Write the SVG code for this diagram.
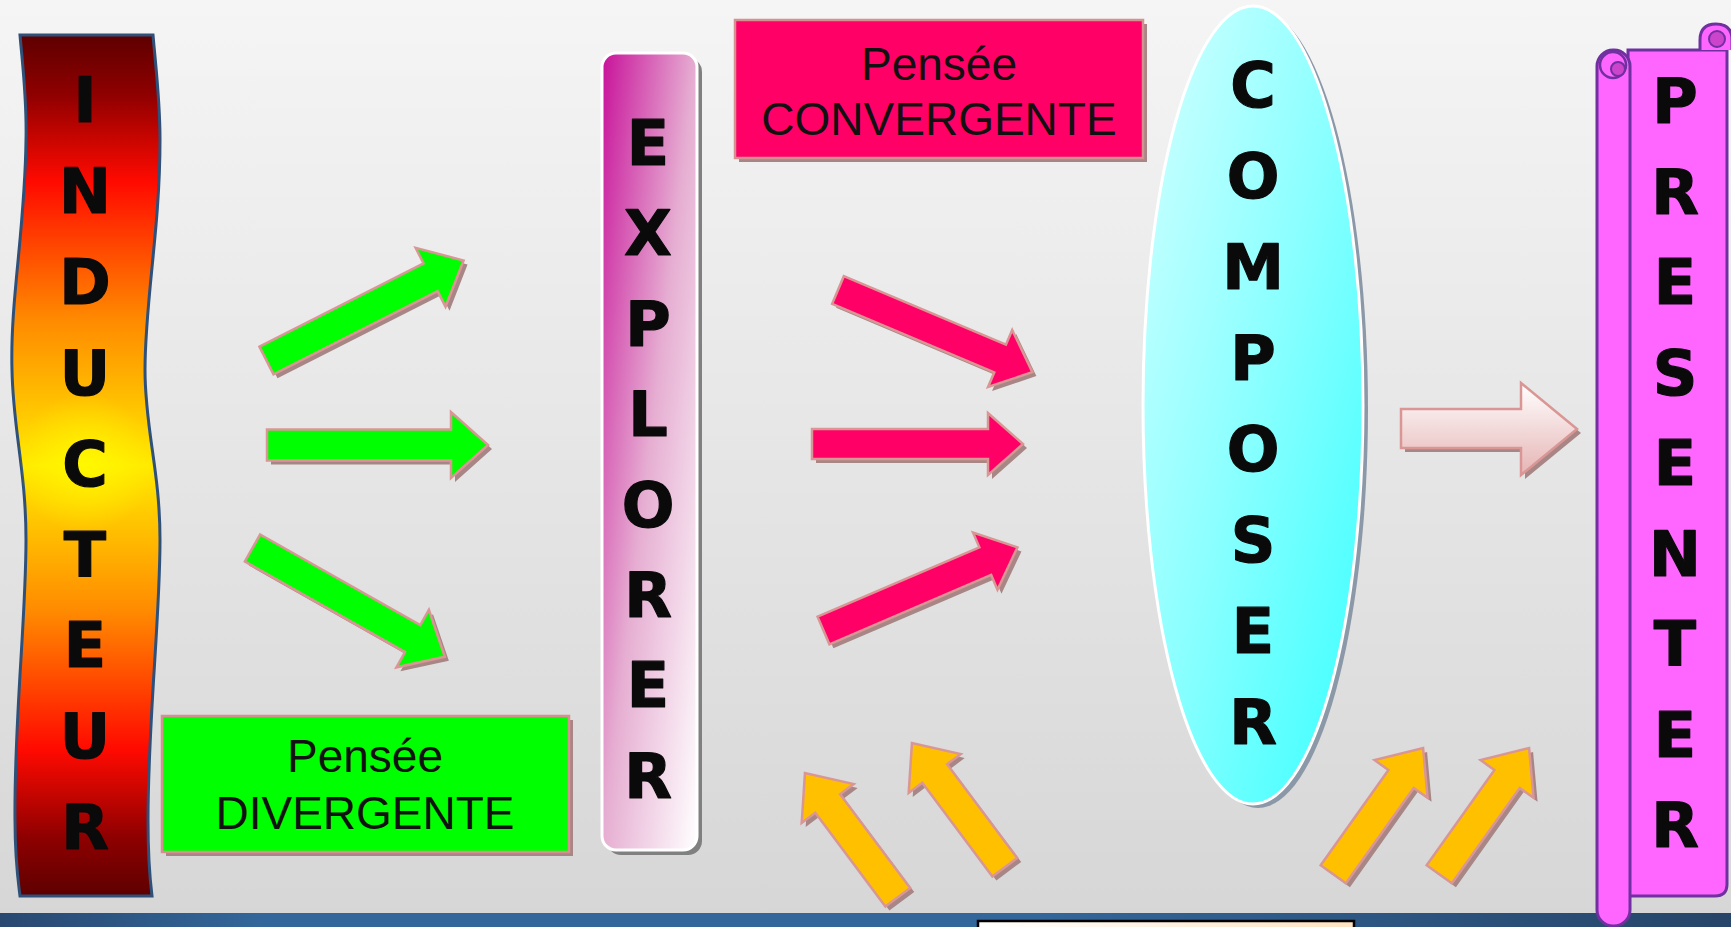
<svg xmlns="http://www.w3.org/2000/svg" xmlns:xlink="http://www.w3.org/1999/xlink" width="1731" height="927" viewBox="0 0 1731 927">
<style>
.big{font-family:"DejaVu Sans","Liberation Sans",sans-serif;font-weight:bold;font-size:62px;fill:#0a0a0a;stroke:#0a0a0a;stroke-width:1.2;stroke-linejoin:round;text-anchor:middle}
.lbl{font-family:"Liberation Sans","DejaVu Sans",sans-serif;font-size:46px;fill:#111;text-anchor:middle}
.ash{fill:#a88686}
.astk{stroke:#d99694;stroke-width:2.5;stroke-linejoin:miter}
.green{fill:#00ff00}
.pink{fill:#ff0066}
.yellow{fill:#ffc000}
</style>
<defs>
<linearGradient id="bg" x1="0" y1="0" x2="0" y2="1">
<stop offset="0" stop-color="#f5f5f5"/>
<stop offset="1" stop-color="#d6d6d6"/>
</linearGradient>
<linearGradient id="band" x1="0" y1="0" x2="1" y2="0">
<stop offset="0" stop-color="#284870"/>
<stop offset="0.15" stop-color="#33669a"/>
<stop offset="0.6" stop-color="#33669a"/>
<stop offset="1" stop-color="#264568"/>
</linearGradient>
<linearGradient id="peach" x1="0" y1="0" x2="1" y2="0">
<stop offset="0" stop-color="#ffffff"/>
<stop offset="1" stop-color="#fde2c2"/>
</linearGradient>
<linearGradient id="fire" x1="0" y1="0" x2="0" y2="1">
<stop offset="0" stop-color="#5e0000"/>
<stop offset="0.07" stop-color="#900000"/>
<stop offset="0.17" stop-color="#ff0a00"/>
<stop offset="0.33" stop-color="#ff8a00"/>
<stop offset="0.5" stop-color="#ffea00"/>
<stop offset="0.67" stop-color="#ff8a00"/>
<stop offset="0.83" stop-color="#ff0a00"/>
<stop offset="0.93" stop-color="#900000"/>
<stop offset="1" stop-color="#5e0000"/>
</linearGradient>
<radialGradient id="glow" gradientUnits="userSpaceOnUse" cx="85" cy="463" r="70">
<stop offset="0" stop-color="#ffff00" stop-opacity="0.7"/>
<stop offset="1" stop-color="#ffff00" stop-opacity="0"/>
</radialGradient>
<linearGradient id="magenta" x1="0" y1="0" x2="1" y2="1">
<stop offset="0" stop-color="#c8129a"/>
<stop offset="0.5" stop-color="#e6aed2"/>
<stop offset="1" stop-color="#ffffff"/>
</linearGradient>
<linearGradient id="cyan" x1="0" y1="0" x2="1" y2="1">
<stop offset="0" stop-color="#d4ffff"/>
<stop offset="0.5" stop-color="#8affff"/>
<stop offset="1" stop-color="#38ffff"/>
</linearGradient>
<linearGradient id="blush" x1="0" y1="0" x2="0" y2="1">
<stop offset="0" stop-color="#ffffff"/>
<stop offset="1" stop-color="#e6b4b4"/>
</linearGradient>
<polygon id="arrG" points="0,-15.5 184,-15.5 184,-33 221,0 184,33 184,15.5 0,15.5"/>
<polygon id="arrP" points="0,-15 176,-15 176,-31 211,0 176,31 176,15 0,15"/>
<polygon id="arrY" points="0,-15.5 117,-15.5 117,-32.5 155,0 117,32.5 117,15.5 0,15.5"/>
</defs>

<rect x="0" y="0" width="1731" height="927" fill="url(#bg)"/>
<rect x="0" y="913" width="1731" height="14" fill="url(#band)"/>
<rect x="978" y="921" width="376" height="10" fill="url(#peach)" stroke="#000" stroke-width="2.5"/>

<g id="node-inducteur">
<path d="M20,35 C23,70 27,100 26,140 C25,230 10,300 12,370 C13,430 26,470 26,540 C26,620 14,720 15,820 C15,860 18,880 20,896 L152,896 C150,880 148,860 148,820 C148,720 160,620 160,540 C160,470 145,430 145,370 C145,300 160,230 160,140 C160,100 156,70 153,35 Z" fill="url(#fire)" stroke="#2f5078" stroke-width="3"/>
<path d="M20,35 C23,70 27,100 26,140 C25,230 10,300 12,370 C13,430 26,470 26,540 C26,620 14,720 15,820 C15,860 18,880 20,896 L152,896 C150,880 148,860 148,820 C148,720 160,620 160,540 C160,470 145,430 145,370 C145,300 160,230 160,140 C160,100 156,70 153,35 Z" fill="url(#glow)"/>
<text class="big"><tspan x="85" y="122">I</tspan><tspan x="85" y="213">N</tspan><tspan x="85" y="304">D</tspan><tspan x="85" y="395">U</tspan><tspan x="85" y="486">C</tspan><tspan x="85" y="577">T</tspan><tspan x="85" y="667">E</tspan><tspan x="85" y="758">U</tspan><tspan x="85" y="849">R</tspan></text>
</g>

<g id="node-divergente">
<rect x="166" y="720" width="407" height="136" class="ash"/>
<rect x="162" y="716" width="407" height="136" fill="#00ff00" stroke="#d59090" stroke-width="2.5"/>
<text class="lbl"><tspan x="365" y="772">Pensée</tspan><tspan x="365" y="829">DIVERGENTE</tspan></text>
</g>

<g id="node-explorer">
<rect x="607" y="58" width="95" height="797" rx="14" fill="#808080"/>
<rect x="602" y="53" width="95" height="797" rx="14" fill="url(#magenta)" stroke="#ffffff" stroke-width="3"/>
<text class="big"><tspan x="648" y="165">E</tspan><tspan x="648" y="255">X</tspan><tspan x="648" y="346">P</tspan><tspan x="648" y="436">L</tspan><tspan x="648" y="527">O</tspan><tspan x="648" y="617">R</tspan><tspan x="648" y="707">E</tspan><tspan x="648" y="798">R</tspan></text>
</g>

<g id="node-convergente">
<rect x="739" y="24" width="408" height="138" class="ash"/>
<rect x="735" y="20" width="408" height="138" fill="#ff0066" stroke="#d59090" stroke-width="2.5"/>
<text class="lbl"><tspan x="939" y="80">Pensée</tspan><tspan x="939" y="135">CONVERGENTE</tspan></text>
</g>

<g id="node-composer">
<ellipse cx="1258" cy="409" rx="110" ry="399" fill="#8a98a8"/>
<ellipse cx="1253" cy="405" rx="110" ry="399" fill="url(#cyan)" stroke="#ffffff" stroke-width="3"/>
<text class="big"><tspan x="1253" y="107">C</tspan><tspan x="1253" y="198">O</tspan><tspan x="1253" y="289">M</tspan><tspan x="1253" y="380">P</tspan><tspan x="1253" y="471">O</tspan><tspan x="1253" y="562">S</tspan><tspan x="1253" y="653">E</tspan><tspan x="1253" y="744">R</tspan></text>
</g>

<g id="node-presenter">
<path d="M1628,50 H1727 V884 Q1727,896 1715,896 H1628 Z" fill="#ff66ff" stroke="#7030a0" stroke-width="3"/>
<path d="M1700,50 V40 Q1700,24 1716,24 Q1732,24 1732,40 V50" fill="#ff66ff" stroke="#7030a0" stroke-width="3"/>
<circle cx="1717" cy="39" r="8" fill="#cc44cc" stroke="#7030a0" stroke-width="2"/>
<rect x="1597" y="50" width="33" height="876" rx="16" fill="#ff66ff" stroke="#7030a0" stroke-width="3"/>
<circle cx="1613" cy="65" r="13" fill="#ff66ff" stroke="#7030a0" stroke-width="2.5"/>
<circle cx="1618" cy="69" r="7" fill="#cc44cc" stroke="#7030a0" stroke-width="2"/>
<text class="big"><tspan x="1675" y="123">P</tspan><tspan x="1675" y="214">R</tspan><tspan x="1675" y="304">E</tspan><tspan x="1675" y="395">S</tspan><tspan x="1675" y="485">E</tspan><tspan x="1675" y="576">N</tspan><tspan x="1675" y="666">T</tspan><tspan x="1675" y="757">E</tspan><tspan x="1675" y="847">R</tspan></text>
</g>

<g id="connectors">
<use xlink:href="#arrG" class="ash" transform="translate(270.5,364.5) rotate(-26.9)"/>
<use xlink:href="#arrG" class="green astk" transform="translate(266.5,360.5) rotate(-26.9)"/>
<use xlink:href="#arrG" class="ash" transform="translate(271,449)"/>
<use xlink:href="#arrG" class="green astk" transform="translate(267,445)"/>
<use xlink:href="#arrG" class="ash" transform="translate(256.5,552) rotate(29.5)"/>
<use xlink:href="#arrG" class="green astk" transform="translate(252.5,548) rotate(29.5)"/>

<use xlink:href="#arrP" class="ash" transform="translate(842,294) rotate(22.9)"/>
<use xlink:href="#arrP" class="pink astk" transform="translate(838,290) rotate(22.9)"/>
<use xlink:href="#arrP" class="ash" transform="translate(816,448)"/>
<use xlink:href="#arrP" class="pink astk" transform="translate(812,444)"/>
<use xlink:href="#arrP" class="ash" transform="translate(827.5,634.5) rotate(-23.2)"/>
<use xlink:href="#arrP" class="pink astk" transform="translate(823.5,630.5) rotate(-23.2)"/>

<use xlink:href="#arrY" class="ash" transform="translate(901.8,901.2) rotate(-126.8)"/>
<use xlink:href="#arrY" class="yellow astk" transform="translate(897.8,897.2) rotate(-126.8)"/>
<use xlink:href="#arrY" class="ash" transform="translate(1008.8,871.2) rotate(-126.8)"/>
<use xlink:href="#arrY" class="yellow astk" transform="translate(1004.8,867.2) rotate(-126.8)"/>
<use xlink:href="#arrY" class="ash" transform="translate(1337.3,878.3) rotate(-54.6)"/>
<use xlink:href="#arrY" class="yellow astk" transform="translate(1333.3,874.3) rotate(-54.6)"/>
<use xlink:href="#arrY" class="ash" transform="translate(1443.3,878.3) rotate(-54.6)"/>
<use xlink:href="#arrY" class="yellow astk" transform="translate(1439.3,874.3) rotate(-54.6)"/>

<polygon class="ash" points="1405,413 1525,413 1525,387 1581,433 1525,479 1525,452 1405,452"/>
<polygon fill="url(#blush)" class="astk" points="1401,409 1521,409 1521,383 1577,429 1521,475 1521,448 1401,448"/>
</g>
</svg>
